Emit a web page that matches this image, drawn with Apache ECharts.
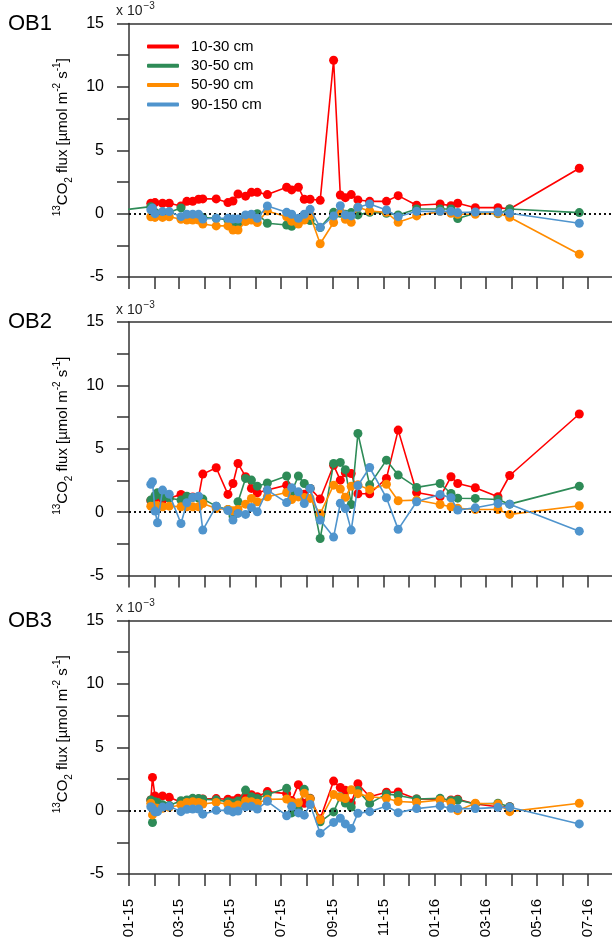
<!DOCTYPE html>
<html><head><meta charset="utf-8">
<script src="https://cdn.jsdelivr.net/npm/echarts@6/dist/echarts.min.js"></script>
<style>html,body{margin:0;padding:0;background:#fff}#c{width:612px;height:943px}</style>
</head><body><div id="c"></div>
<script>
// ---- data ----
const sampleDates = ['2015-01-27','2015-01-29','2015-02-01','2015-02-04','2015-02-10','2015-02-18','2015-03-04','2015-03-11','2015-03-18','2015-03-25','2015-03-30','2015-04-15','2015-04-29','2015-05-05','2015-05-11','2015-05-20','2015-05-27','2015-06-03','2015-06-15','2015-07-08','2015-07-14','2015-07-22','2015-07-29','2015-08-05','2015-08-17','2015-09-02','2015-09-10','2015-09-16','2015-09-23','2015-10-01','2015-10-15','2015-11-04','2015-11-18','2015-12-10','2016-01-07','2016-01-20','2016-01-28','2016-02-18','2016-03-16','2016-03-30','2016-06-21'];
const depthNames = ['10-30 cm','30-50 cm','50-90 cm','90-150 cm'];
const panelNames = ['OB1','OB2','OB3'];

const ob1Depth10_30 = [0.82,null,0.87,null,0.82,0.82,0.6,0.97,0.97,1.13,1.16,1.16,0.87,1.0,1.55,1.38,1.68,1.68,1.5,2.08,1.87,2.08,1.13,1.13,1.05,12.1,1.47,1.26,1.5,1.08,0.97,0.97,1.42,0.66,0.76,0.63,0.82,0.47,0.47,0.37,3.58];
const ob1Depth30_50 = [0.55,null,0.1,null,0.1,0.1,0.45,-0.2,-0.2,-0.2,-0.3,-0.37,-0.5,-0.76,-0.85,-0.2,-0.1,0,-0.76,-0.9,-1.0,-0.45,-0.2,-0.55,-1.1,0.1,0.03,-0.05,0.08,-0.1,0.1,0.03,-0.1,0.37,0.37,0.37,-0.39,0.03,0,0.37,0.08];
const ob1Depth50_90 = [-0.25,null,-0.3,null,-0.3,-0.25,-0.45,-0.5,-0.5,-0.5,-0.82,-0.97,-0.97,-1.29,-1.29,-0.63,-0.5,-0.7,0.2,-0.25,-0.6,-0.82,-0.5,-0.15,-2.38,-0.7,0.16,-0.45,-0.68,0.5,0.21,0.1,-0.68,-0.18,0.18,0.03,-0.05,-0.05,0.03,-0.29,-3.2];
const ob1Depth90_150 = [0.3,0.45,0.0,null,0.16,0.16,-0.24,-0.05,-0.05,-0.05,-0.42,-0.37,-0.37,-0.42,-0.42,-0.1,-0.05,-0.37,0.6,0.1,-0.05,-0.37,-0.05,0.34,-1.08,-0.18,0.63,-0.1,-0.18,0.5,0.76,0.29,-0.24,0.18,0.18,0.18,0.08,0.13,0.13,0.03,-0.76];
// earlier 30-50 cm point of OB1, left of the plotted period (only its line shows)
const ob1Depth30_50EarlyDate = ['2014-12-15'];
const ob1Depth30_50EarlyValue = [0.21];

const ob2Depth10_30 = [0.9,null,1.1,null,0.95,1.1,1.4,1.1,1.2,1.2,3.0,3.5,1.4,2.26,3.84,2.8,1.87,1.53,1.74,2.13,1.6,1.5,1.42,1.87,1.03,3.7,2.52,3.1,3.05,1.45,1.45,2.66,6.47,1.55,1.21,2.79,2.26,1.92,1.21,2.89,7.74];
const ob2Depth30_50 = [0.95,null,1.3,1.53,1.2,1.1,0.95,1.26,1.16,1.1,1.03,0.47,0.2,-0.3,0.82,2.66,2.53,2.05,2.3,2.85,1.6,2.85,2.26,1.87,-2.08,3.84,3.92,3.35,0.6,6.2,2.15,4.1,2.92,1.95,2.26,1.47,1.1,1.08,1.0,0.63,2.05];
const ob2Depth50_90 = [0.47,null,0.5,0.5,0.42,0.47,0.42,0.42,0.42,0.42,0.68,0.29,0.21,0.1,0.21,0.63,1.08,0.82,1.21,1.55,1.0,1.2,1.16,1.08,-0.13,2.13,1.82,1.17,2.05,2.15,1.77,2.2,0.9,0.95,0.6,0.42,0.3,0.21,0.21,-0.18,0.5];
const ob2Depth90_150 = [2.2,2.4,0.08,-0.84,1.74,1.42,-0.9,0.74,1.16,1.26,-1.42,0.47,0.13,-0.63,-0.1,-0.18,0.37,0.03,1.74,0.75,1.93,1.6,0.68,1.87,-0.63,-1.97,0.7,0.28,-1.42,2.1,3.52,1.13,-1.36,0.82,1.4,1.13,0.16,0.34,0.68,0.63,-1.5];

const ob3Depth10_30 = [0.84,2.62,1.16,null,1.16,1.05,0.66,0.8,0.85,0.92,0.92,0.95,0.9,0.77,0.98,1.16,1.26,1.1,1.5,1.34,0.79,2.05,0.58,0.97,-0.65,2.33,1.82,1.6,0.6,2.12,1.1,1.45,1.47,0.92,0.9,0.84,0.9,0.52,0.31,0.31,null];
const ob3Depth30_50 = [0.84,-0.94,0.7,0.65,0.47,0.4,0.78,0.84,0.97,0.95,0.9,0.85,0.7,0.6,0.75,1.62,1.1,0.95,1.27,1.76,-0.18,0.08,1.68,0.95,-0.88,-0.1,1.1,0.6,0.28,1.58,0.55,1.32,1.2,0.92,0.97,0.8,0.84,0.52,0.58,0.31,null];
const ob3Depth50_90 = [0.58,-0.34,0.2,0.18,0.18,0.26,0.45,0.65,0.7,0.65,0.52,0.65,0.5,0.31,0.45,0.76,0.7,0.58,0.89,0.92,0.65,0.62,1.38,0.92,-0.72,1.27,1.06,0.95,1.65,1.34,1.1,0.98,0.72,0.65,0.84,0.63,0.0,0.58,0.52,-0.08,0.58];
const ob3Depth90_150 = [0.31,0.18,-0.1,-0.08,0.28,0.34,-0.08,0.1,0.13,0.13,-0.28,0.02,0.02,-0.1,-0.03,0.3,0.34,0.13,0.73,-0.4,0.34,-0.18,-0.36,0.48,-1.78,-0.93,-0.6,-1.05,-1.42,-0.21,-0.08,0.37,-0.16,0.16,0.37,0.18,0.16,0.16,0.26,0.26,-1.05];

const monthTicks = ['2015-01-01','2015-02-01','2015-03-01','2015-04-01','2015-05-01','2015-06-01','2015-07-01','2015-08-01','2015-09-01','2015-10-01','2015-11-01','2015-12-01','2016-01-01','2016-02-01','2016-03-01','2016-04-01','2016-05-01','2016-06-01','2016-07-01'];
const monthLabels = ['2015-01-01','2015-03-01','2015-05-01','2015-07-01','2015-09-01','2015-11-01','2016-01-01','2016-03-01','2016-05-01','2016-07-01'];
const xRange = ['2015-01-01','2016-07-30'];
const yRange = [-5, 15];
const yStep = 2.5;
const yLabelStep = 5;

// ---- build ----
const panels = [
  [ob1Depth10_30, ob1Depth30_50, ob1Depth50_90, ob1Depth90_150],
  [ob2Depth10_30, ob2Depth30_50, ob2Depth50_90, ob2Depth90_150],
  [ob3Depth10_30, ob3Depth30_50, ob3Depth50_90, ob3Depth90_150]
];
const colors = ['#FF0000', '#2E8B57', '#FF8C00', '#4F94CD'];
const FONT = '"Liberation Sans", Arial, Helvetica, sans-serif';
function ts(s){ const p = s.split('-').map(Number); return new Date(p[0], p[1]-1, p[2]).getTime(); }
function fmtMonth(v){ const d = new Date(v); return String(d.getMonth()+1).padStart(2,'0') + '-' + String(d.getFullYear()%100).padStart(2,'0'); }

const tops = [23.5, 322, 620.5];
const H = 253.5;
const axisColor = '#333';
const grids = [], xAxes = [], yAxes = [], series = [], graphics = [];

tops.forEach((top, i) => {
  grids.push({ left: 129, right: 0, top: top, height: H, containLabel: false });
  xAxes.push({
    gridIndex: i, type: 'value', min: ts(xRange[0]), max: ts(xRange[1]),
    axisLine: { show: true, onZero: false, lineStyle: { color: axisColor, width: 1.5 } },
    axisTick: { show: true, customValues: monthTicks.map(ts), length: 12, inside: false, lineStyle: { color: axisColor, width: 1.5 } },
    axisLabel: { show: i === 2, customValues: monthLabels.map(ts), rotate: 90, margin: 25, fontSize: 15, color: '#000', fontFamily: FONT, formatter: fmtMonth, hideOverlap: false },
    splitLine: { show: false }
  });
  yAxes.push({
    gridIndex: i, type: 'value', min: yRange[0], max: yRange[1], interval: yStep,
    axisLine: { show: true, onZero: false, lineStyle: { color: axisColor, width: 1.5 } },
    axisTick: { show: true, length: 12, lineStyle: { color: axisColor, width: 1.5 } },
    axisLabel: { margin: 25, fontSize: 16, color: '#000', fontFamily: FONT, formatter: v => (v % yLabelStep === 0 ? String(v) : '') },
    splitLine: { show: false }
  });
  panels[i].forEach((vals, k) => {
    let data = sampleDates.map((d, j) => [ts(d), vals[j]]);
    const s = {
      name: depthNames[k], type: 'line', xAxisIndex: i, yAxisIndex: i,
      data: data, connectNulls: true,
      symbol: 'circle', symbolSize: 9, showSymbol: true,
      lineStyle: { color: colors[k], width: 1.6 },
      itemStyle: { color: colors[k] },
      emphasis: { disabled: true }, z: 2 + k
    };
    if (i === 0 && k === 1) {
      s.data = ob1Depth30_50EarlyDate.map((d, j) => ({ value: [ts(d), ob1Depth30_50EarlyValue[j]], symbol: 'none' })).concat(data);
      s.clip = false;
    }
    if (k === 0) {
      s.markLine = { silent: true, symbol: ['none','none'], label: { show: false }, animation: false,
        lineStyle: { color: '#111', width: 1.8, type: [2, 3] }, data: [{ yAxis: 0 }] };
    }
    series.push(s);
  });
  // panel title
  graphics.push({ type: 'text', left: 8, top: top - 11, style: { text: panelNames[i], font: '22px ' + FONT, fill: '#000' } });
  // scale note
  graphics.push({ type: 'text', left: 116, top: top - 22, style: {
    text: '{n|x 10}{s|\u22123}', fill: '#222',
    rich: { n: { fontSize: 14, fontFamily: FONT, lineHeight: 17, verticalAlign: 'bottom' }, s: { fontSize: 10, fontFamily: FONT, lineHeight: 17, verticalAlign: 'top', padding: [0,0,7,1] } } } });
  // y axis title
  graphics.push({ type: 'text', x: 63, y: top + H / 2 - 13, rotation: Math.PI / 2, style: {
    text: '{s|13}{n|CO}{b|2}{n| flux [µmol m}{s|-2}{n| s}{s|-1}{n|]}',
    x: 0, y: 0, align: 'center', verticalAlign: 'middle', textAlign: 'center', textVerticalAlign: 'middle', fill: '#000',
    rich: {
      n: { fontSize: 15, fontFamily: FONT, lineHeight: 22, verticalAlign: 'middle' },
      s: { fontSize: 10, fontFamily: FONT, lineHeight: 22, verticalAlign: 'top', padding: [0,0,10,0] },
      b: { fontSize: 10, fontFamily: FONT, lineHeight: 22, verticalAlign: 'bottom', padding: [6,0,0,0] }
    } } });
});
// top frame lines
tops.forEach((top, i) => {
  xAxes.push({ gridIndex: i, type: 'value', position: 'top', min: ts(xRange[0]), max: ts(xRange[1]),
    axisLine: { show: true, onZero: false, lineStyle: { color: axisColor, width: 1.5 } },
    axisTick: { show: false }, axisLabel: { show: false }, splitLine: { show: false } });
});

const chart = echarts.init(document.getElementById('c'), null, { renderer: 'canvas' });
chart.setOption({
  animation: false,
  backgroundColor: '#fff',
  textStyle: { fontFamily: FONT },
  grid: grids, xAxis: xAxes, yAxis: yAxes, series: series,
  legend: {
    data: depthNames, orient: 'vertical', left: 142, top: 33.5,
    itemWidth: 32, itemHeight: 4, itemGap: 3.3, icon: 'roundRect',
    textStyle: { fontSize: 15, lineHeight: 16, color: '#000', fontFamily: FONT, padding: [0,0,0,7] },
    selectedMode: false
  },
  graphic: graphics
});
</script></body></html>
